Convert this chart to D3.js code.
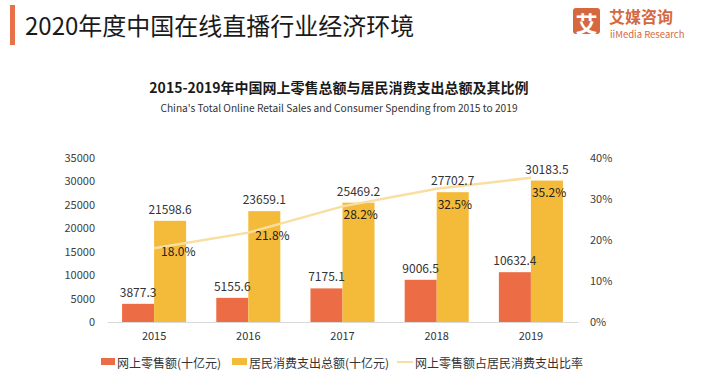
<!DOCTYPE html>
<html><head><meta charset="utf-8">
<script src="https://cdn.jsdelivr.net/npm/d3@7"></script>
<style>
html,body{margin:0;padding:0;background:#fff;}
svg{display:block;font-family:"Noto Sans CJK SC","Noto Sans",sans-serif;}
</style></head>
<body><svg id="c" width="706" height="380"></svg>
<script>
const years = ["2015","2016","2017","2018","2019"];
const onlineRetail = [3877.3, 5155.6, 7175.1, 9006.5, 10632.4];
const consumerSpending = [21598.6, 23659.1, 25469.2, 27702.7, 30183.5];
const ratio = [18.0, 21.8, 28.2, 32.5, 35.2];
const leftTicks = [0, 5000, 10000, 15000, 20000, 25000, 30000, 35000];
const rightTicks = [0, 10, 20, 30, 40];
const seriesNames = ["网上零售额(十亿元)", "居民消费支出总额(十亿元)", "网上零售额占居民消费支出比率"];
const headerTitle = "2020年度中国在线直播行业经济环境";
const chartTitle = "2015-2019年中国网上零售总额与居民消费支出总额及其比例";
const chartSubtitle = "China's Total Online Retail Sales and Consumer Spending from 2015 to 2019";

const RED = "#ec6d45", YEL = "#f4bb3a", LINE = "#f9dea2", BRAND = "#d5683f";
const svg = d3.select("#c");
svg.append("rect").attr("width",706).attr("height",380).attr("fill","#fff");

// header
svg.append("rect").attr("x",10).attr("y",5).attr("width",5).attr("height",40).attr("fill","#e8714a");
svg.append("text").attr("x",25).attr("y",24).attr("dominant-baseline","central")
  .attr("font-size",24).attr("fill","#1a1a1a").text(headerTitle);
svg.append("rect").attr("x",573).attr("y",8).attr("width",27).attr("height",26).attr("rx",3).attr("fill",BRAND);
svg.append("text").attr("x",586.5).attr("y",21.5).attr("text-anchor","middle").attr("dominant-baseline","central")
  .attr("font-size",22).attr("font-weight","bold").attr("fill","#fff").text("艾");
svg.append("text").attr("x",609).attr("y",15.5).attr("dominant-baseline","central")
  .attr("font-size",16).attr("font-weight","bold").attr("fill",BRAND).text("艾媒咨询");
svg.append("text").attr("x",610).attr("y",34).attr("dominant-baseline","central")
  .attr("font-size",9.5).attr("fill",BRAND).text("iiMedia Research");

// chart titles
svg.append("text").attr("x",339).attr("y",87).attr("text-anchor","middle").attr("dominant-baseline","central")
  .attr("font-size",14).attr("font-weight","bold").attr("fill","#1a1a1a").text(chartTitle);
svg.append("text").attr("x",339).attr("y",107).attr("text-anchor","middle").attr("dominant-baseline","central")
  .attr("font-size",10.2).attr("fill","#333").text(chartSubtitle);

// scales
const x = d3.scaleBand().domain(years).range([107,578]).paddingInner(0.32).paddingOuter(0.16);
const x1 = d3.scaleBand().domain(["a","b"]).range([0,x.bandwidth()]);
const y = d3.scaleLinear().domain([0,35000]).range([322,158]);
const yR = d3.scaleLinear().domain([0,40]).range([322,158]);

// axes
const gL = svg.append("g").attr("transform","translate(100,0)")
  .call(d3.axisLeft(y).tickValues(leftTicks).tickSize(0).tickPadding(5).tickFormat(d3.format("d")));
gL.select(".domain").remove();
gL.selectAll("text").attr("font-size",11).attr("fill","#404040").attr("font-family","Noto Sans CJK SC");
const gR = svg.append("g").attr("transform","translate(585,0)")
  .call(d3.axisRight(yR).tickValues(rightTicks).tickSize(0).tickPadding(5).tickFormat(d=>d+"%"));
gR.select(".domain").remove();
gR.selectAll("text").attr("font-size",11).attr("fill","#404040").attr("font-family","Noto Sans CJK SC");
const gX = svg.append("g").attr("transform","translate(0,322)")
  .call(d3.axisBottom(x).tickSize(0).tickPadding(10));
gX.select(".domain").attr("stroke","#d9d9d9");
gX.selectAll("text").attr("font-size",11).attr("fill","#333").attr("font-family","Noto Sans CJK SC");

// bars
const g = svg.append("g");
years.forEach((yr,i)=>{
  const gx = x(yr);
  g.append("rect").attr("x",gx+x1("a")).attr("y",y(onlineRetail[i])).attr("width",x1.bandwidth())
    .attr("height",y(0)-y(onlineRetail[i])).attr("fill",RED);
  g.append("rect").attr("x",gx+x1("b")).attr("y",y(consumerSpending[i])).attr("width",x1.bandwidth())
    .attr("height",y(0)-y(consumerSpending[i])).attr("fill",YEL);
});
// line
const lineGen = d3.line().x((d,i)=>x(years[i])+x.bandwidth()/2).y(d=>yR(d));
svg.append("path").datum(ratio).attr("d",lineGen).attr("fill","none").attr("stroke",LINE).attr("stroke-width",2.5);

// labels
const lab = svg.append("g").attr("font-size",12).attr("fill","#333");
years.forEach((yr,i)=>{
  const gx = x(yr);
  lab.append("text").attr("x",gx+x1("a")+x1.bandwidth()/2).attr("y",y(onlineRetail[i])-7)
    .attr("text-anchor","middle").text(onlineRetail[i].toFixed(1));
  lab.append("text").attr("x",gx+x1("b")+x1.bandwidth()/2).attr("y",y(consumerSpending[i])-7)
    .attr("text-anchor","middle").text(consumerSpending[i].toFixed(1));
  const cx = gx + x.bandwidth()/2;
  const py = yR(ratio[i]) + 2, by = y(consumerSpending[i]) + 11;
  const inBar = by > py;
  lab.append("text").attr("x", inBar ? cx+1 : cx+7).attr("y", Math.max(py,by))
    .attr("dominant-baseline","central").attr("fill","#222").text(ratio[i].toFixed(1)+"%");
});

// legend
const lg = svg.append("g").attr("font-size",12).attr("fill","#333");
lg.append("rect").attr("x",101).attr("y",358).attr("width",14).attr("height",7).attr("fill",RED);
lg.append("text").attr("x",117).attr("y",362).attr("dominant-baseline","central").text(seriesNames[0]);
lg.append("rect").attr("x",232).attr("y",358).attr("width",15).attr("height",7).attr("fill",YEL);
lg.append("text").attr("x",249).attr("y",362).attr("dominant-baseline","central").text(seriesNames[1]);
lg.append("line").attr("x1",397).attr("x2",413).attr("y1",362).attr("y2",362).attr("stroke",LINE).attr("stroke-width",2);
lg.append("text").attr("x",415).attr("y",362).attr("dominant-baseline","central").text(seriesNames[2]);
</script></body></html>
